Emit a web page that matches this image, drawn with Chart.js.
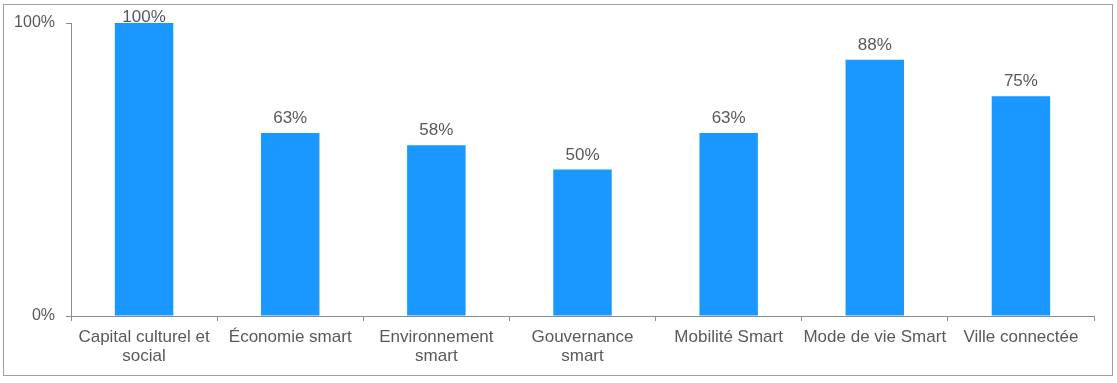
<!DOCTYPE html>
<html>
<head>
<meta charset="utf-8">
<script src="https://cdn.jsdelivr.net/npm/chart.js@4"></script>
<style>
  html, body { margin: 0; padding: 0; background: #fff; }
  #wrap { position: relative; width: 1117px; height: 383px; }
</style>
</head>
<body>
<div id="wrap"><canvas id="chart" width="1117" height="383"></canvas></div>
<script>
const CATEGORIES = [
  ['Capital culturel et', 'social'],
  'Économie smart',
  ['Environnement', 'smart'],
  ['Gouvernance', 'smart'],
  'Mobilité Smart',
  'Mode de vie Smart',
  'Ville connectée'
];
const VALUES = [100, 62.5, 58.3, 50, 62.5, 87.5, 75];
const Y_TICKS = [0, 100];

const BAR = '#1a98ff';
const TEXT = '#595959';
const AXIS = '#8c8c8c';
const FONT = { family: 'Liberation Sans, Arial, sans-serif', size: 17, lineHeight: 1.1 };
const Y_FONT = { family: 'Liberation Sans, Arial, sans-serif', size: 16 };

const frame = {
  id: 'frame',
  beforeDraw(chart) {
    const c = chart.ctx;
    c.save();
    c.fillStyle = '#fff';
    c.fillRect(0, 0, chart.width, chart.height);
    c.strokeStyle = '#a0a0a0';
    c.lineWidth = 1;
    c.strokeRect(3.5, 4.5, 1109, 371);
    c.restore();
  }
};

const valueLabels = {
  id: 'valueLabels',
  afterDatasetsDraw(chart) {
    const c = chart.ctx;
    const meta = chart.getDatasetMeta(0);
    c.save();
    c.font = FONT.size + 'px ' + FONT.family;
    c.fillStyle = TEXT;
    c.textAlign = 'center';
    c.textBaseline = 'alphabetic';
    meta.data.forEach((bar, i) => {
      const y = Math.max(bar.y - 10, 22);
      c.fillText(Math.round(VALUES[i]) + '%', bar.x, y);
    });
    c.restore();
  }
};

new Chart(document.getElementById('chart').getContext('2d'), {
  type: 'bar',
  data: {
    labels: CATEGORIES,
    datasets: [{
      data: VALUES,
      backgroundColor: BAR,
      borderWidth: 0,
      barPercentage: 0.4,
      categoryPercentage: 1
    }]
  },
  options: {
    responsive: false,
    animation: false,
    layout: { padding: { left: 0, right: 23, top: 23, bottom: 0 } },
    plugins: {
      legend: { display: false },
      tooltip: { enabled: false }
    },
    scales: {
      x: {
        grid: { offset: true, drawOnChartArea: false, tickLength: 5, color: AXIS },
        border: { color: AXIS },
        ticks: { color: TEXT, font: FONT, padding: 7, maxRotation: 0, autoSkip: false },
        afterFit(s) { s.height = 67; }
      },
      y: {
        min: 0,
        max: 100,
        afterBuildTicks(s) { s.ticks = Y_TICKS.map(v => ({ value: v })); },
        grid: { drawOnChartArea: false, tickLength: 5, color: AXIS },
        border: { color: AXIS },
        ticks: { color: TEXT, font: Y_FONT, padding: 11, callback: v => v + '%' },
        afterFit(s) { s.width = 71; }
      }
    }
  },
  plugins: [frame, valueLabels]
});
</script>
</body>
</html>
